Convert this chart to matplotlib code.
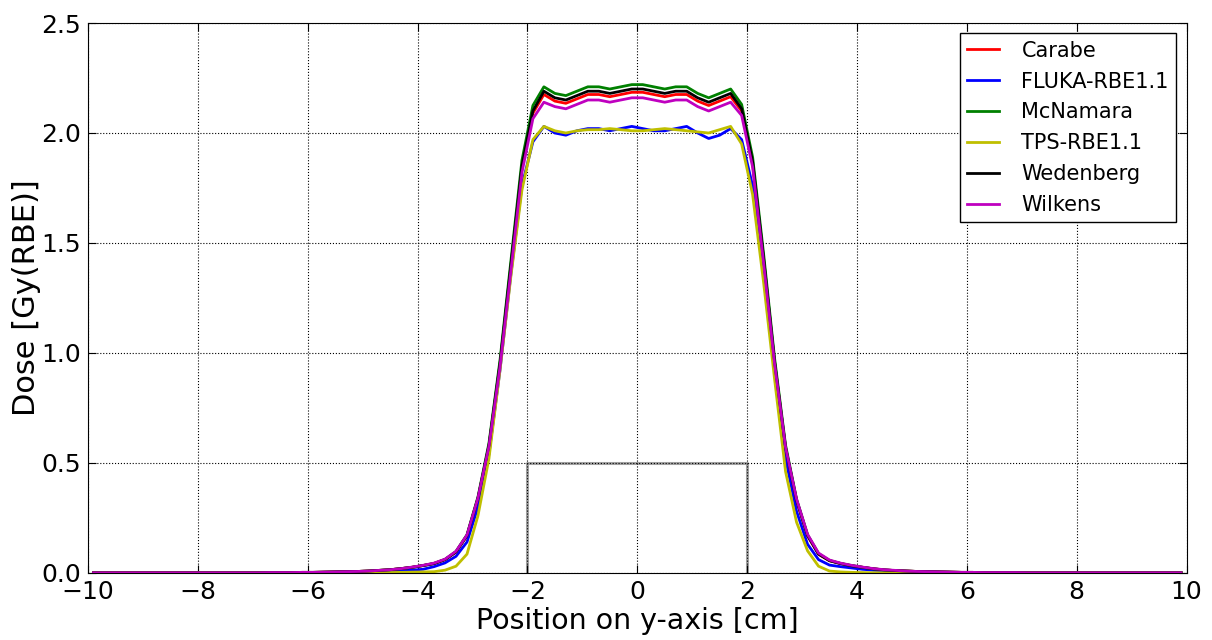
import numpy as np
import matplotlib
matplotlib.use("Agg")
import matplotlib.pyplot as plt

# Positions (bin centres, cm)
x = np.round(np.arange(-9.9, 9.95, 0.2), 1)

tail_far = [0.0] * 16    # -9.9 .. -6.9
tail_far_r = [0.0] * 14  # 7.3 .. 9.9

# values from -6.7 .. 7.1 (70 points)
wedenberg_mid = [
    0.001, 0.001, 0.001, 0.002, 0.002, 0.003, 0.004, 0.005, 0.006, 0.008,
    0.011, 0.014, 0.019, 0.025, 0.033, 0.042, 0.060, 0.095, 0.170, 0.340,
    0.580, 0.950, 1.400, 1.850, 2.100, 2.190, 2.160, 2.150, 2.170, 2.190,
    2.190, 2.180, 2.190, 2.200, 2.200, 2.190, 2.180, 2.190, 2.190, 2.160,
    2.140, 2.160, 2.180, 2.110, 1.870, 1.430, 0.960, 0.570, 0.330, 0.170,
    0.085, 0.055, 0.042, 0.032, 0.025, 0.018, 0.013, 0.010, 0.008, 0.006,
    0.005, 0.004, 0.003, 0.002, 0.002, 0.001, 0.001, 0.001, 0.001, 0.000,
]
mcnamara_mid = [
    0.001, 0.001, 0.001, 0.002, 0.002, 0.003, 0.004, 0.005, 0.006, 0.008,
    0.011, 0.014, 0.019, 0.025, 0.033, 0.043, 0.061, 0.097, 0.173, 0.345,
    0.590, 0.965, 1.420, 1.875, 2.125, 2.210, 2.180, 2.170, 2.190, 2.210,
    2.210, 2.200, 2.210, 2.220, 2.220, 2.210, 2.200, 2.210, 2.210, 2.180,
    2.160, 2.180, 2.200, 2.130, 1.890, 1.450, 0.975, 0.580, 0.335, 0.173,
    0.087, 0.056, 0.043, 0.033, 0.025, 0.018, 0.013, 0.010, 0.008, 0.006,
    0.005, 0.004, 0.003, 0.002, 0.002, 0.001, 0.001, 0.001, 0.001, 0.000,
]
carabe_mid = [
    0.001, 0.001, 0.001, 0.002, 0.002, 0.003, 0.004, 0.005, 0.006, 0.008,
    0.011, 0.014, 0.019, 0.025, 0.033, 0.042, 0.060, 0.094, 0.168, 0.337,
    0.575, 0.942, 1.390, 1.840, 2.090, 2.175, 2.145, 2.135, 2.155, 2.175,
    2.175, 2.165, 2.175, 2.185, 2.185, 2.175, 2.165, 2.175, 2.175, 2.145,
    2.125, 2.145, 2.165, 2.100, 1.860, 1.420, 0.952, 0.565, 0.328, 0.168,
    0.084, 0.055, 0.042, 0.032, 0.025, 0.018, 0.013, 0.010, 0.008, 0.006,
    0.005, 0.004, 0.003, 0.002, 0.002, 0.001, 0.001, 0.001, 0.001, 0.000,
]
wilkens_mid = [
    0.001, 0.001, 0.001, 0.002, 0.002, 0.003, 0.004, 0.005, 0.006, 0.008,
    0.011, 0.014, 0.019, 0.026, 0.034, 0.044, 0.062, 0.098, 0.172, 0.340,
    0.575, 0.935, 1.375, 1.820, 2.065, 2.140, 2.120, 2.110, 2.130, 2.150,
    2.150, 2.140, 2.150, 2.160, 2.160, 2.150, 2.140, 2.150, 2.150, 2.120,
    2.100, 2.120, 2.140, 2.080, 1.845, 1.410, 0.950, 0.570, 0.335, 0.175,
    0.090, 0.058, 0.044, 0.034, 0.026, 0.019, 0.014, 0.011, 0.008, 0.006,
    0.005, 0.004, 0.003, 0.002, 0.002, 0.001, 0.001, 0.001, 0.001, 0.000,
]
fluka_mid = [
    0.000, 0.000, 0.000, 0.001, 0.001, 0.001, 0.002, 0.002, 0.003, 0.004,
    0.005, 0.006, 0.009, 0.012, 0.016, 0.028, 0.045, 0.075, 0.140, 0.300,
    0.540, 0.920, 1.360, 1.760, 1.960, 2.030, 2.000, 1.990, 2.010, 2.020,
    2.020, 2.010, 2.020, 2.030, 2.020, 2.010, 2.010, 2.020, 2.030, 2.000,
    1.975, 1.990, 2.020, 1.970, 1.760, 1.360, 0.920, 0.520, 0.280, 0.130,
    0.060, 0.035, 0.028, 0.022, 0.016, 0.012, 0.009, 0.006, 0.005, 0.004,
    0.003, 0.002, 0.002, 0.001, 0.001, 0.001, 0.000, 0.000, 0.000, 0.000,
]
tps_mid = [
    0.000, 0.000, 0.000, 0.000, 0.000, 0.000, 0.000, 0.000, 0.000, 0.000,
    0.000, 0.001, 0.002, 0.003, 0.004, 0.005, 0.012, 0.030, 0.085, 0.260,
    0.520, 0.920, 1.350, 1.740, 1.970, 2.030, 2.010, 2.000, 2.010, 2.015,
    2.015, 2.020, 2.015, 2.010, 2.010, 2.015, 2.020, 2.015, 2.010, 2.005,
    2.000, 2.015, 2.030, 1.950, 1.720, 1.320, 0.880, 0.460, 0.230, 0.100,
    0.030, 0.008, 0.004, 0.002, 0.001, 0.000, 0.000, 0.000, 0.000, 0.000,
    0.000, 0.000, 0.000, 0.000, 0.000, 0.000, 0.000, 0.000, 0.000, 0.000,
]

labels = ["Carabe", "FLUKA-RBE1.1", "McNamara", "TPS-RBE1.1", "Wedenberg", "Wilkens"]
mids = [carabe_mid, fluka_mid, mcnamara_mid, tps_mid, wedenberg_mid, wilkens_mid]
colors = ["r", "b", "g", "y", "k", "m"]

# target box (cm, Gy)
box_x = [-2, -2, 2, 2]
box_y = [0, 0.5, 0.5, 0]

fig = plt.figure(figsize=(12.12, 6.4), dpi=100)
ax = fig.add_axes([0.0726, 0.105, 0.9064, 0.859])

ax.plot(box_x, box_y, color="0.55", lw=2.2, alpha=0.8, zorder=1)
for lab, mid, c in zip(labels, mids, colors):
    y = np.array(tail_far + mid + tail_far_r)
    ax.plot(x, y, color=c, lw=2, label=lab, zorder=2)

ax.set_xlim(-10, 10)
ax.set_ylim(0, 2.5)
ax.set_xticks(np.arange(-10, 11, 2))
ax.set_yticks(np.arange(0, 2.51, 0.5))
ax.grid(True, color="k", linestyle=":", linewidth=0.8)
ax.tick_params(direction="in", top=True, right=True, labelsize=18, length=6, pad=5)
ax.set_xlabel("Position on y-axis [cm]", fontsize=20.5, labelpad=2)
ax.set_ylabel("Dose [Gy(RBE)]", fontsize=22, labelpad=0)

leg = ax.legend(loc="upper right", fontsize=15, fancybox=False, framealpha=1,
                edgecolor="k", handlelength=1.5, handletextpad=1.1,
                labelspacing=0.52, borderpad=0.35, borderaxespad=0.5)
leg.get_frame().set_linewidth(1.0)

fig.savefig("out.png", dpi=100)
